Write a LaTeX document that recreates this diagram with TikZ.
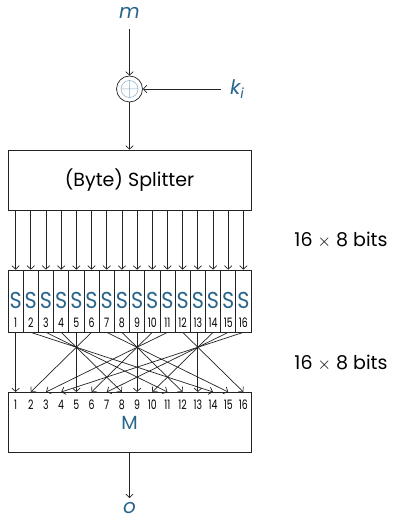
\documentclass[tikz,border=0pt]{standalone}
\usepackage{fontspec}
\setmainfont{Poppins}
\usetikzlibrary{arrows.meta}
\definecolor{ink}{RGB}{42,102,140}
\definecolor{xorblue}{RGB}{135,172,198}
\definecolor{wire}{RGB}{35,35,35}
\begin{document}
\begin{tikzpicture}[x=1pt,y=-1pt,
  wire/.style={draw=wire, line width=0.7pt},
  arr/.style={wire, -{Straight Barb[length=3.5pt,width=7.5pt,line width=0.7pt]}},
  block/.style={wire, rectangle, inner sep=0pt},
  sbox/.style={block, minimum width=15.1875pt, minimum height=62pt},
  var/.style={text=ink, font=\fontsize{20}{20}\selectfont\itshape, inner sep=0pt},
  lbl/.style={font=\fontsize{19}{19}\selectfont, inner sep=0pt},
  idx/.style={font=\fontsize{13}{13}\selectfont, inner sep=0pt},
  sname/.style={text=ink, font=\fontsize{23}{23}\selectfont, inner sep=0pt}]
\useasboundingbox (0,0) rectangle (394,521);

% input, key and XOR
\node[var] (m) at (129.5,13) {m};
\coordinate (mend) at (129.5,29);
\node[wire, circle, minimum size=26pt, inner sep=0pt] (xor) at (129.5,89) {};
\draw[xorblue, line width=0.5pt] (xor.center) circle (8.5pt)
  (xor.center) ++(-8.5,0) -- ++(17,0)
  (xor.center) ++(0,-8.5) -- ++(0,17);
\node[var] (k) at (237,89) {k\raisebox{-0.4ex}{\fontsize{14}{14}\selectfont i}};
\coordinate (kend) at (221,89);
\draw[arr] (mend) -- (xor.north);
\draw[arr] (kend) -- (xor.east);

% splitter
\node[block, minimum width=243pt, minimum height=60pt, draw] (split) at (129.5,180) {};
\node[lbl] (splitlbl) at (129.5,180) {(Byte) Splitter};
\draw[arr] (xor.south) -- (split.north);

% S-boxes
\foreach \i in {1,...,16}{
  \pgfmathsetmacro{\cx}{8+(\i-0.5)*15.1875}
  \node[sbox, draw] (s\i) at (\cx,301) {};
  \node[sname] (sl\i) at (\cx,300) {\scalebox{0.9}[1]{S}};
  \node[idx] (sn\i) at (\cx,323) {\scalebox{0.72}[1]{\i}};
  \coordinate (sp\i) at (\cx,210);
  \draw[arr] (sp\i) -- (s\i.north);
}

% mixing block
\node[block, minimum width=243pt, minimum height=60pt, draw] (mix) at (129.5,422) {};
\node[text=ink, font=\fontsize{19}{19}\selectfont, inner sep=0pt] (mixlbl) at (129.5,423) {M};
\foreach \i in {1,...,16}{
  \pgfmathsetmacro{\cx}{8+(\i-0.5)*15.1875}
  \coordinate (mi\i) at (\cx,392);
  \node[idx] (mn\i) at (\cx,405) {\scalebox{0.72}[1]{\i}};
}

% byte permutation between S-boxes and M
\foreach \a/\b in {1/1,2/14,3/11,4/8,5/5,6/2,7/15,8/12,9/9,10/6,11/3,12/16,13/13,14/10,15/7,16/4}
  \draw[arr] (s\a.south) -- (mi\b);

% output
\node[var] (o) at (129.5,508.5) {o};
\coordinate (oend) at (129.5,498);
\draw[arr] (mix.south) -- (oend);

% widths
\node[lbl] (w1) at (341,240) {16 $\times$ 8 bits};
\node[lbl] (w2) at (341,363) {16 $\times$ 8 bits};
\end{tikzpicture}
\end{document}
